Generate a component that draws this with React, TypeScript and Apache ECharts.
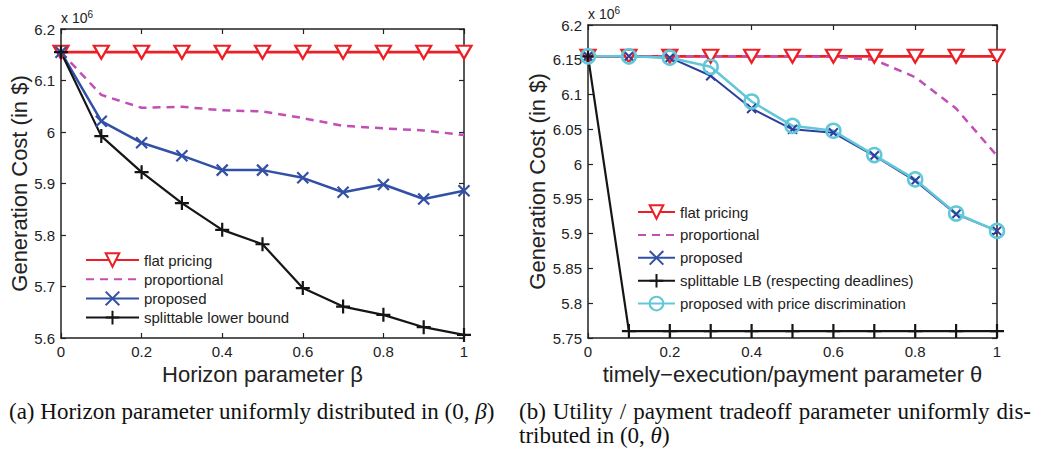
import React, { useEffect, useRef } from "react";
import * as echarts from "echarts";

// ---- data ----
const xs = [0, 0.1, 0.2, 0.3, 0.4, 0.5, 0.6, 0.7, 0.8, 0.9, 1.0];

const leftFlat = [6.155, 6.155, 6.155, 6.155, 6.155, 6.155, 6.155, 6.155, 6.155, 6.155, 6.155];
const leftProportional = [6.155, 6.072, 6.047, 6.049, 6.042, 6.04, 6.027, 6.012, 6.007, 6.003, 5.994];
const leftProposed = [6.155, 6.021, 5.979, 5.954, 5.926, 5.926, 5.911, 5.883, 5.898, 5.87, 5.886];
const leftSplittable = [6.155, 5.992, 5.922, 5.862, 5.81, 5.782, 5.697, 5.661, 5.645, 5.621, 5.606];

const rightFlat = [6.155, 6.155, 6.155, 6.155, 6.155, 6.155, 6.155, 6.155, 6.155, 6.155, 6.155];
const rightProportional = [6.155, 6.155, 6.155, 6.155, 6.155, 6.155, 6.154, 6.15, 6.125, 6.08, 6.012];
const rightProposed = [6.155, 6.155, 6.153, 6.127, 6.08, 6.05, 6.045, 6.012, 5.976, 5.928, 5.904];
const rightSplittable = [6.155, 5.76, 5.76, 5.76, 5.76, 5.76, 5.76, 5.76, 5.76, 5.76, 5.76];
const rightDiscrimination = [6.155, 6.155, 6.153, 6.14, 6.09, 6.055, 6.048, 6.013, 5.978, 5.929, 5.904];

const leftNames = ["flat pricing", "proportional", "proposed", "splittable lower bound"];
const rightNames = [
  "flat pricing",
  "proportional",
  "proposed",
  "splittable LB (respecting deadlines)",
  "proposed with price discrimination",
];

const captionA = "(a) Horizon parameter uniformly distributed in (0, {i|β})";
const captionB1Words = ["(b)", "Utility", "/", "payment", "tradeoff", "parameter", "uniformly", "dis-"];
const captionB2 = "tributed in (0, {i|θ})";

const pair = (vals: number[]) => xs.map((x, i) => [x, vals[i]]);

const RED = "#ec1f26";
const MAGENTA = "#c24fb4";
const BLUE = "#3150a6";
const NAVY = "#2d3f9c";
const BLACK = "#151515";
const CYAN = "#62c7d8";
const AXIS = "#222";
const SANS = "'Liberation Sans', Arial, Helvetica, sans-serif";
const SERIF = "'Liberation Serif', 'Times New Roman', serif";
const CAP_SIZE = 23;

const X_PATH = "path://M0,0L10,10M10,0L0,10";
const PLUS_PATH = "path://M5,0L5,10M0,5L10,5";

function axisPair(kind: "x" | "y", gridIndex: number, min: number, max: number, interval: number, name: string, nameGap: number) {
  const base = {
    gridIndex,
    type: "value",
    min,
    max,
    interval,
    splitLine: { show: false },
    axisLine: { show: true, onZero: false, lineStyle: { color: AXIS, width: 1.5 } },
    axisTick: { show: true, inside: true, length: 5, lineStyle: { color: AXIS, width: 1.2 } },
  };
  const main = {
    ...base,
    position: kind === "x" ? "bottom" : "left",
    axisLabel: { show: true, color: "#222", fontFamily: SANS, fontSize: 15, margin: 6 },
    name,
    nameLocation: "middle",
    nameGap,
    nameTextStyle: { color: "#222", fontFamily: SANS, fontSize: 22 },
  };
  const other = {
    ...base,
    position: kind === "x" ? "top" : "right",
    axisLabel: { show: false },
  };
  return [main, other];
}

function justifiedWords(words: string[], x0: number, x1: number, top: number) {
  let widths: number[] = words.map((w) => w.length * CAP_SIZE * 0.45);
  try {
    const ctx = document.createElement("canvas").getContext("2d");
    if (ctx) {
      ctx.font = `${CAP_SIZE}px 'Liberation Serif'`;
      widths = words.map((w) => ctx.measureText(w).width);
    }
  } catch (e) {}
  const total = widths.reduce((a, b) => a + b, 0);
  const gap = (x1 - x0 - total) / (words.length - 1);
  let x = x0;
  return words.map((w, i) => {
    const el = {
      type: "text",
      x,
      y: top,
      style: { text: w, fill: "#111", font: `${CAP_SIZE}px ${SERIF}`, textVerticalAlign: "top" },
    };
    x += widths[i] + gap;
    return el;
  });
}

function buildOption() {
  const lineSeries = (name: string, vals: number[], color: string, axis: number, extra: any) => ({
    name,
    type: "line",
    xAxisIndex: axis,
    yAxisIndex: axis,
    data: pair(vals),
    lineStyle: { color, width: 2.5 },
    itemStyle: { color, borderColor: color, borderWidth: 2.2 },
    symbol: "none",
    z: 2,
    ...extra,
  });

  const series = [
    lineSeries(leftNames[0], leftFlat, RED, 0, {
      symbol: "triangle",
      symbolRotate: 180,
      symbolSize: [15, 13],
      itemStyle: { color: "#fff", borderColor: RED, borderWidth: 2.2 },
      lineStyle: { color: RED, width: 2.8 },
    }),
    lineSeries(leftNames[1], leftProportional, MAGENTA, 0, {
      lineStyle: { color: MAGENTA, width: 2.5, type: [8, 6] },
    }),
    lineSeries(leftNames[2], leftProposed, BLUE, 0, {
      symbol: X_PATH,
      symbolSize: 11,
    }),
    lineSeries(leftNames[3], leftSplittable, BLACK, 0, {
      symbol: PLUS_PATH,
      symbolSize: 14,
      lineStyle: { color: BLACK, width: 2.2 },
    }),
    lineSeries(rightNames[0], rightFlat, RED, 2, {
      symbol: "triangle",
      symbolRotate: 180,
      symbolSize: [15, 13],
      itemStyle: { color: "#fff", borderColor: RED, borderWidth: 2.2 },
      lineStyle: { color: RED, width: 2.8 },
    }),
    lineSeries(rightNames[1], rightProportional, MAGENTA, 2, {
      lineStyle: { color: MAGENTA, width: 2.5, type: [8, 6] },
    }),
    lineSeries(rightNames[2], rightProposed, NAVY, 2, {
      symbol: X_PATH,
      symbolSize: 9,
      lineStyle: { color: NAVY, width: 2 },
      itemStyle: { color: NAVY, borderColor: NAVY, borderWidth: 2 },
    }),
    lineSeries(rightNames[3], rightSplittable, BLACK, 2, {
      symbol: PLUS_PATH,
      symbolSize: 14,
      lineStyle: { color: BLACK, width: 2.2 },
    }),
    lineSeries(rightNames[4], rightDiscrimination, CYAN, 2, {
      symbol: "circle",
      symbolSize: 14,
      itemStyle: { color: "rgba(0,0,0,0)", borderColor: CYAN, borderWidth: 2.5 },
      lineStyle: { color: CYAN, width: 2.5 },
    }),
  ];

  const legendText = { color: "#222", fontFamily: SANS, fontSize: 15, lineHeight: 16 };
  const legendData = (names: string[]) =>
    names.map((n) =>
      n === "proportional"
        ? { name: n, itemStyle: { opacity: 0, color: "rgba(0,0,0,0)", borderColor: "rgba(0,0,0,0)", borderWidth: 0 } }
        : { name: n }
    );

  const sup = { s: { fontSize: 10, fontFamily: SANS, verticalAlign: "top", padding: [0, 0, 8, 0] } };

  return {
    animation: false,
    backgroundColor: "#fff",
    grid: [
      { left: 61, top: 29, width: 403, height: 309 },
      { left: 588, top: 25, width: 409, height: 313 },
    ],
    xAxis: [
      ...axisPair("x", 0, 0, 1, 0.2, "Horizon parameter β", 18),
      ...axisPair("x", 1, 0, 1, 0.2, "timely\u2212execution/payment parameter θ", 18),
    ],
    yAxis: [
      ...axisPair("y", 0, 5.6, 6.2, 0.1, "Generation Cost (in $)", 27),
      ...axisPair("y", 1, 5.75, 6.2, 0.05, "Generation Cost (in $)", 38),
    ],
    legend: [
      {
        data: legendData(leftNames),
        orient: "vertical",
        left: 85,
        top: 252,
        padding: 0,
        itemWidth: 53,
        itemHeight: 17,
        itemGap: 3.2,
        textStyle: legendText,
        selectedMode: false,
      },
      {
        data: legendData(rightNames),
        orient: "vertical",
        left: 637,
        top: 204,
        padding: 0,
        itemWidth: 37,
        itemHeight: 17,
        itemGap: 6.9,
        textStyle: legendText,
        selectedMode: false,
      },
    ],
    graphic: [
      {
        type: "text",
        left: 61,
        top: 9,
        style: { text: "x 10{s|6}", fill: "#222", font: `14px ${SANS}`, rich: sup },
      },
      {
        type: "text",
        left: 588,
        top: 5,
        style: { text: "x 10{s|6}", fill: "#222", font: `14px ${SANS}`, rich: sup },
      },
      {
        type: "text",
        left: 9,
        top: 400,
        style: {
          text: captionA,
          fill: "#111",
          font: `${CAP_SIZE}px ${SERIF}`,
          rich: { i: { fontStyle: "italic", fontSize: CAP_SIZE, fontFamily: SERIF } },
        },
      },
      ...justifiedWords(captionB1Words, 519, 1031, 400),
      {
        type: "text",
        left: 519,
        top: 424,
        style: {
          text: captionB2,
          fill: "#111",
          font: `${CAP_SIZE}px ${SERIF}`,
          rich: { i: { fontStyle: "italic", fontSize: CAP_SIZE, fontFamily: SERIF } },
        },
      },
    ],
    series,
  };
}

export default function App() {
  const ref = useRef<HTMLDivElement>(null);
  useEffect(() => {
    if (!ref.current) return;
    const chart = echarts.init(ref.current, undefined, { renderer: "svg" });
    chart.setOption(buildOption() as any);
    return () => chart.dispose();
  }, []);
  return (
    <div
      ref={ref}
      style={{ position: "fixed", left: 0, top: 0, width: 1049, height: 456, background: "#fff" }}
    />
  );
}
